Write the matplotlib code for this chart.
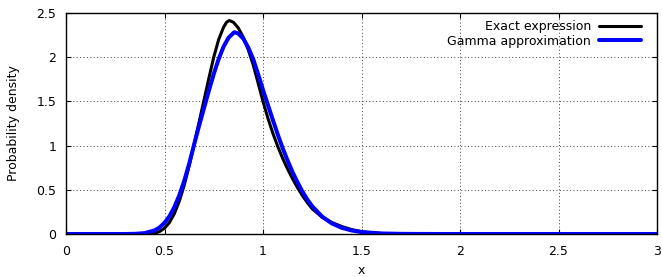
import matplotlib
matplotlib.use('Agg')
import matplotlib.pyplot as plt

# values
x_exact = [0.0, 0.40, 0.425, 0.45, 0.475, 0.50, 0.525, 0.55, 0.575, 0.60,
           0.625, 0.65, 0.675, 0.70, 0.725, 0.75, 0.775, 0.80, 0.815, 0.829,
           0.85, 0.875, 0.90, 0.925, 0.95, 0.975, 1.00, 1.025, 1.05, 1.075,
           1.10, 1.125, 1.15, 1.175, 1.20, 1.225, 1.25, 1.30, 1.35, 1.40,
           1.45, 1.50, 1.55, 1.60, 1.70, 1.80, 3.0]
y_exact = [0.0, 0.0, 0.002, 0.008, 0.028, 0.065, 0.13, 0.23, 0.37, 0.55,
           0.77, 1.01, 1.26, 1.51, 1.76, 2.00, 2.20, 2.34, 2.395, 2.415,
           2.395, 2.33, 2.225, 2.085, 1.915, 1.71, 1.50, 1.31, 1.14, 0.99,
           0.855, 0.735, 0.625, 0.525, 0.435, 0.355, 0.285, 0.19, 0.13, 0.085,
           0.05, 0.027, 0.013, 0.006, 0.001, 0.0, 0.0]

x_gamma = [0.0, 0.30, 0.35, 0.40, 0.45, 0.475, 0.50, 0.525, 0.55, 0.575,
           0.60, 0.625, 0.65, 0.675, 0.70, 0.725, 0.75, 0.775, 0.80, 0.825,
           0.854, 0.875, 0.90, 0.925, 0.95, 0.975, 1.00, 1.025, 1.05, 1.075,
           1.10, 1.125, 1.15, 1.175, 1.20, 1.225, 1.25, 1.30, 1.35, 1.40,
           1.45, 1.50, 1.60, 1.70, 1.80, 1.90, 3.0]
y_gamma = [0.0, 0.0, 0.002, 0.010, 0.041, 0.074, 0.126, 0.20, 0.304, 0.437,
           0.60, 0.793, 1.009, 1.22, 1.42, 1.62, 1.81, 1.98, 2.12, 2.22,
           2.283, 2.267, 2.21, 2.11, 1.98, 1.81, 1.63, 1.46, 1.29, 1.125,
           0.97, 0.83, 0.70, 0.585, 0.48, 0.39, 0.313, 0.197, 0.119, 0.070,
           0.040, 0.022, 0.0063, 0.0016, 0.0004, 0.0, 0.0]

x_ticks = [0, 0.5, 1, 1.5, 2, 2.5, 3]
x_ticklabels = ['0', '0.5', '1', '1.5', '2', '2.5', '3']
y_ticks = [0, 0.5, 1, 1.5, 2, 2.5]
y_ticklabels = ['0', '0.5', '1', '1.5', '2', '2.5']

plt.rcParams['font.family'] = ['DejaVu Sans']
plt.rcParams['font.size'] = 9

fig = plt.figure(figsize=(6.62, 2.77), dpi=100)
ax = fig.add_axes([66 / 662, 1 - 234 / 277, (657 - 66) / 662, (234 - 13) / 277])

ax.plot(x_exact, y_exact, color='black', linewidth=2.2, label='Exact expression',
        solid_joinstyle='round', solid_capstyle='round', zorder=3)
ax.plot(x_gamma, y_gamma, color='#0000ff', linewidth=2.9, label='Gamma approximation',
        solid_joinstyle='round', solid_capstyle='round', zorder=4)

ax.set_xlim(0, 3)
ax.set_ylim(0, 2.5)
ax.set_xticks(x_ticks)
ax.set_xticklabels(x_ticklabels)
ax.set_yticks(y_ticks)
ax.set_yticklabels(y_ticklabels)
ax.tick_params(direction='in', length=3.5, width=0.8, top=True, right=True,
               pad=8, labelsize=9, colors='black')
ax.tick_params(axis='y', pad=7)
ax.grid(True, color='0.25', linestyle=(0, (1, 2.5)), linewidth=0.7)
for s in ax.spines.values():
    s.set_linewidth(1.0)
    s.set_zorder(5)

ax.set_xlabel('x', fontsize=9, labelpad=4)
ax.set_ylabel('Probability density', fontsize=9, labelpad=12)

ax.legend(loc='upper right', bbox_to_anchor=(0.99, 1.0136), frameon=False,
          markerfirst=False, handlelength=3.4, handletextpad=0.6,
          labelspacing=0.15, borderaxespad=0.4, fontsize=9)

fig.savefig('out.png', dpi=100)
